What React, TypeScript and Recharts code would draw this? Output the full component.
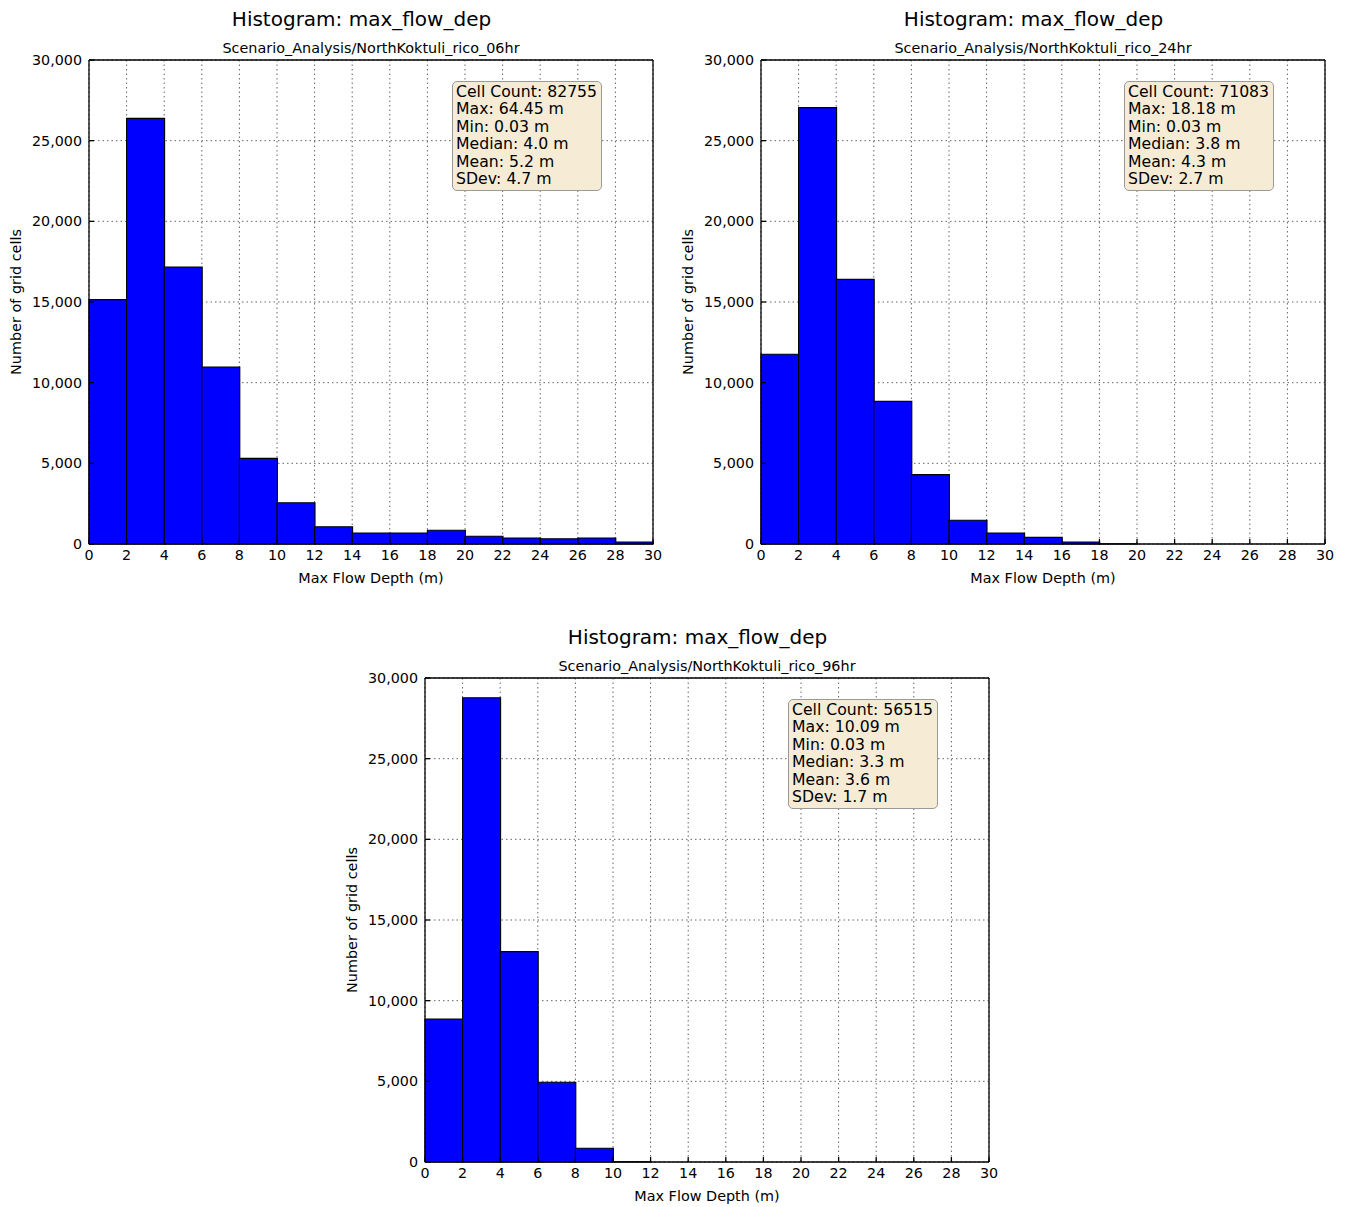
import React from 'react';
import { ComposedChart, Bar, XAxis, YAxis, CartesianGrid } from 'recharts';

const binLabels = ['0-2', '2-4', '4-6', '6-8', '8-10', '10-12', '12-14', '14-16', '16-18', '18-20', '20-22', '22-24', '24-26', '26-28', '28-30'];
const binMids = [1, 3, 5, 7, 9, 11, 13, 15, 17, 19, 21, 23, 25, 27, 29];
const xTicks = [0, 2, 4, 6, 8, 10, 12, 14, 16, 18, 20, 22, 24, 26, 28, 30];
const yTicks = [0, 5000, 10000, 15000, 20000, 25000, 30000];

const counts06 = [15150, 26380, 17170, 10970, 5310, 2560, 1070, 680, 680, 850, 480, 370, 330, 370, 120];
const counts24 = [11760, 27050, 16400, 8840, 4300, 1470, 680, 410, 120, 5, 0, 0, 0, 0, 0];
const counts96 = [8860, 28780, 13040, 4940, 850, 10, 0, 0, 0, 0, 0, 0, 0, 0, 0];

const stats06 = ['Cell Count: 82755', 'Max: 64.45 m', 'Min: 0.03 m', 'Median: 4.0 m', 'Mean: 5.2 m', 'SDev: 4.7 m'];
const stats24 = ['Cell Count: 71083', 'Max: 18.18 m', 'Min: 0.03 m', 'Median: 3.8 m', 'Mean: 4.3 m', 'SDev: 2.7 m'];
const stats96 = ['Cell Count: 56515', 'Max: 10.09 m', 'Min: 0.03 m', 'Median: 3.3 m', 'Mean: 3.6 m', 'SDev: 1.7 m'];

const title = 'Histogram: max_flow_dep';
const subtitle06 = 'Scenario_Analysis/NorthKoktuli_rico_06hr';
const subtitle24 = 'Scenario_Analysis/NorthKoktuli_rico_24hr';
const subtitle96 = 'Scenario_Analysis/NorthKoktuli_rico_96hr';
const xLabel = 'Max Flow Depth (m)';
const yLabel = 'Number of grid cells';

const FONT = '"DejaVu Sans", sans-serif';

type PanelProps = { plotLeft: number; plotTop: number; subtitle: string; counts: number[]; stats: string[] };

function Panel({ plotLeft, plotTop, subtitle, counts, stats }: PanelProps) {
  const data = binLabels.map((b, i) => ({ bin: b, mid: binMids[i], count: counts[i] }));
  const W = 672;
  const H = 600;
  const PL = 89;
  const PT = 60;
  const PW = 564;
  const PH = 484;
  const tickStyle = { fill: '#000', fontSize: 14.3, fontFamily: FONT };
  return (
    <div style={{ position: 'absolute', left: plotLeft - PL, top: plotTop - PT, width: W, height: H }}>
      <ComposedChart
        width={W}
        height={H}
        data={data}
        margin={{ top: PT - 1, left: PL - 60, right: W - PL - PW - 1, bottom: H - PT - PH - 30 }}
        barCategoryGap={0}
        barGap={0}
      >
        <CartesianGrid xAxisId="num" yAxisId="left" stroke="#666" strokeDasharray="1.5 3" verticalValues={xTicks} horizontalValues={yTicks} />
        <XAxis xAxisId="cat" dataKey="bin" hide height={0} orientation="top" />
        <XAxis
          xAxisId="num"
          dataKey="mid"
          type="number"
          domain={[0, 30]}
          ticks={xTicks}
          interval={0}
          orientation="bottom"
          height={30}
          tickSize={-5}
          tickMargin={11}
          stroke="#000"
          strokeWidth={1.3}
          tick={tickStyle}
        />
        <XAxis
          xAxisId="top"
          dataKey="mid"
          type="number"
          domain={[0, 30]}
          ticks={xTicks}
          interval={0}
          orientation="top"
          height={1}
          tickSize={-5}
          tick={false}
          stroke="#000"
          strokeWidth={1.3}
        />
        <YAxis
          yAxisId="left"
          type="number"
          domain={[0, 30000]}
          ticks={yTicks}
          interval={0}
          width={60}
          tickSize={-5}
          tickMargin={12}
          stroke="#000"
          strokeWidth={1.3}
          tick={tickStyle}
          tickFormatter={(v: number) => v.toLocaleString('en-US')}
        />
        <YAxis
          yAxisId="right"
          orientation="right"
          type="number"
          domain={[0, 30000]}
          ticks={yTicks}
          interval={0}
          width={1}
          tickSize={-5}
          tick={false}
          stroke="#000"
          strokeWidth={1.3}
        />
        <Bar xAxisId="cat" yAxisId="left" dataKey="count" fill="#0000ff" stroke="#000" strokeWidth={1.1} isAnimationActive={false} />
      </ComposedChart>
      <div style={{ position: 'absolute', left: PL + PW / 2 - 9.5 - 200, width: 400, top: 6, textAlign: 'center', fontFamily: FONT, fontSize: 20, lineHeight: '26px', color: '#000', whiteSpace: 'nowrap' }}>{title}</div>
      <div style={{ position: 'absolute', left: PL + PW / 2 - 200, width: 400, top: 39, textAlign: 'center', fontFamily: FONT, fontSize: 14.4, lineHeight: '18px', color: '#000', whiteSpace: 'nowrap' }}>{subtitle}</div>
      <div style={{ position: 'absolute', left: PL + PW / 2 - 200, width: 400, top: 569, textAlign: 'center', fontFamily: FONT, fontSize: 14.4, lineHeight: '18px', color: '#000', whiteSpace: 'nowrap' }}>{xLabel}</div>
      <div style={{ position: 'absolute', left: 16 - 100, top: PT + PH / 2 - 9, width: 200, height: 18, textAlign: 'center', fontFamily: FONT, fontSize: 14.4, lineHeight: '18px', color: '#000', whiteSpace: 'nowrap', transform: 'rotate(-90deg)' }}>{yLabel}</div>
      <div
        style={{
          position: 'absolute',
          left: PL + 363,
          top: PT + 21,
          width: 150,
          height: 110,
          boxSizing: 'border-box',
          border: '1px solid #9a9a9a',
          borderRadius: 5,
          background: '#f6ecd6',
          padding: '1px 0 0 3px',
          fontFamily: FONT,
          fontSize: 15.7,
          lineHeight: '17.4px',
          color: '#000',
          whiteSpace: 'nowrap',
        }}
      >
        {stats.map((s) => (
          <div key={s}>{s}</div>
        ))}
      </div>
    </div>
  );
}

export default function App() {
  return (
    <div style={{ position: 'absolute', left: 0, top: 0, width: 1345, height: 1207, background: '#fff' }}>
      <Panel plotLeft={89} plotTop={60} subtitle={subtitle06} counts={counts06} stats={stats06} />
      <Panel plotLeft={761} plotTop={60} subtitle={subtitle24} counts={counts24} stats={stats24} />
      <Panel plotLeft={425} plotTop={678} subtitle={subtitle96} counts={counts96} stats={stats96} />
    </div>
  );
}
